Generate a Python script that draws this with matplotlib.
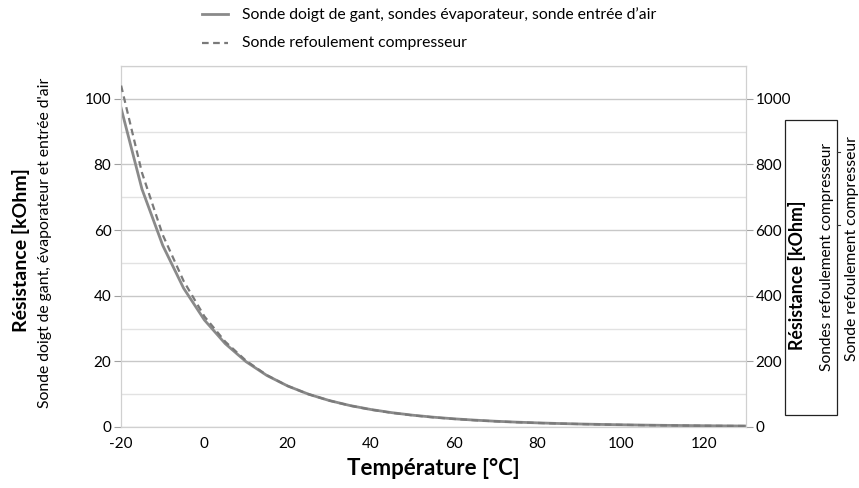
import matplotlib
matplotlib.use('Agg')
import matplotlib.pyplot as plt
from matplotlib.lines import Line2D
from matplotlib.patches import Rectangle

plt.rcParams['font.family'] = ['Lato', 'DejaVu Sans']
plt.rcParams['axes.unicode_minus'] = False

# Temperature in °C
temps = [-20, -15, -10, -5, 0, 5, 10, 15, 20, 25, 30, 35, 40, 45, 50, 55, 60, 65,
         70, 75, 80, 85, 90, 95, 100, 105, 110, 115, 120, 125, 130]
# Sonde doigt de gant / évaporateur / entrée d'air (kOhm, left axis)
r_sondes = [97.1, 72.5, 55.3, 42.3, 32.6, 25.4, 19.9, 15.7, 12.5, 10.0, 8.06, 6.53,
            5.33, 4.37, 3.60, 2.99, 2.49, 2.09, 1.75, 1.48, 1.26, 1.07, 0.92, 0.79,
            0.68, 0.59, 0.51, 0.45, 0.39, 0.34, 0.30]
# Sonde refoulement compresseur (kOhm, right axis)
r_refoul = [1040, 775, 585, 445, 337, 260, 202, 158, 125, 100, 80.5, 65.0, 52.8,
            43.2, 35.5, 29.4, 24.5, 20.5, 17.2, 14.5, 12.3, 10.5, 9.0, 7.7, 6.6,
            5.7, 5.0, 4.4, 3.8, 3.4, 3.0]

fig = plt.figure(figsize=(8.59, 4.88), dpi=100)
ax = fig.add_axes([0.141, 0.125, 0.727, 0.74])
ax2 = ax.twinx()

ax.plot(temps, r_sondes, color='#8a8a8a', linewidth=2.0, zorder=3)
ax2.plot(temps, r_refoul, color='#7a7a7a', linewidth=1.6, linestyle=(0, (3, 2)), zorder=3)

ax.set_xlim(-20, 130)
ax.set_ylim(0, 110)
ax2.set_ylim(0, 1100)
ax.set_xticks(range(-20, 121, 20))
ax.set_yticks(range(0, 101, 20))
ax.set_yticks(range(10, 111, 20), minor=True)
ax2.set_yticks(range(0, 1001, 200))

ax.grid(axis='y', which='major', color='#c8c8c8', linewidth=1.0)
ax.grid(axis='y', which='minor', color='#e2e2e2', linewidth=1.0)
ax.set_axisbelow(True)

for a in (ax, ax2):
    for s in a.spines.values():
        s.set_color('#d0d0d0')
ax.tick_params(axis='x', length=0, labelsize=11, pad=7)
ax.tick_params(axis='y', which='major', length=5, color='#a0a0a0', labelsize=11, pad=2)
ax.tick_params(axis='y', which='minor', length=0)
ax2.tick_params(axis='y', length=5, color='#a0a0a0', labelsize=11, pad=2)

ax.set_xlabel('Température [°C]', fontsize=16, fontweight='bold', labelpad=5)

fig.text(0.025, 0.488, 'Résistance [kOhm]', rotation=90, fontsize=14, fontweight='bold',
         ha='center', va='center')
fig.text(0.052, 0.502, "Sonde doigt de gant, évaporateur et entrée d'air", rotation=90,
         fontsize=11.3, ha='center', va='center')

# right-hand label box
fig.patches.append(Rectangle((0.914, 0.150), 0.060, 0.604, transform=fig.transFigure,
                             fill=False, edgecolor='#222222', linewidth=0.9))
fig.text(0.928, 0.436, 'Résistance [kOhm]', rotation=90, fontsize=12.8, fontweight='bold',
         ha='center', va='center')
fig.text(0.963, 0.473, 'Sondes refoulement compresseur', rotation=90, fontsize=11.2,
         ha='center', va='center')
for yy in (0.689, 0.539):
    fig.add_artist(Line2D([0.974, 0.978], [yy, yy], transform=fig.transFigure,
                          color='#333333', linewidth=0.8))
fig.text(0.992, 0.491, 'Sonde refoulement compresseur', rotation=90, fontsize=11.3,
         ha='center', va='center')

# legend at the top
fig.add_artist(Line2D([0.235, 0.265], [0.971, 0.971], transform=fig.transFigure,
                      color='#8a8a8a', linewidth=2.0))
fig.add_artist(Line2D([0.235, 0.265], [0.912, 0.912], transform=fig.transFigure,
                      color='#7a7a7a', linewidth=1.6, linestyle=(0, (3, 2))))
fig.text(0.282, 0.971, "Sonde doigt de gant, sondes évaporateur, sonde entrée d’air",
         fontsize=11.3, va='center')
fig.text(0.282, 0.912, 'Sonde refoulement compresseur', fontsize=11.3, va='center')

plt.savefig('out.png', dpi=100)
plt.close()
